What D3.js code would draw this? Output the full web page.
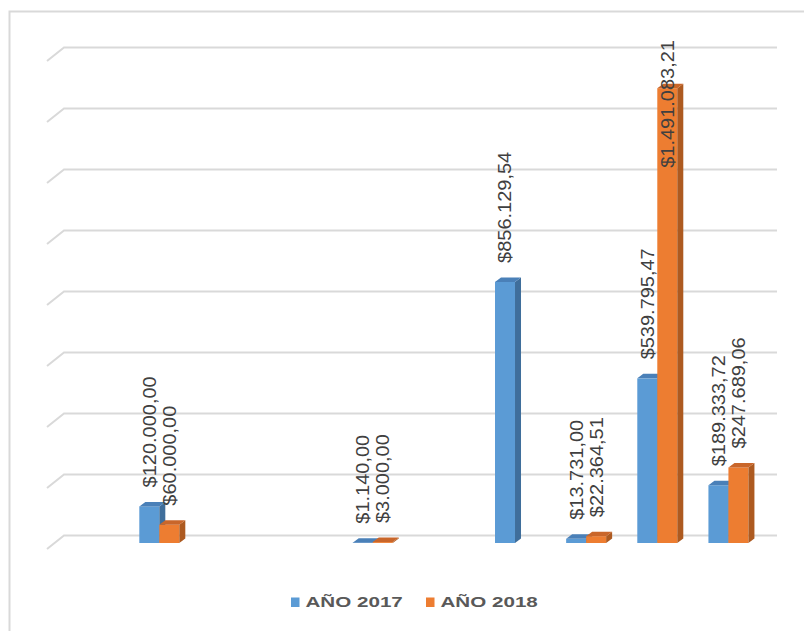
<!DOCTYPE html>
<html>
<head>
<meta charset="utf-8">
<script src="https://cdn.jsdelivr.net/npm/d3@7"></script>
<style>
  html, body { margin: 0; padding: 0; background: #ffffff; }
  svg { display: block; }
</style>
</head>
<body>
<svg id="chart" width="804" height="631"></svg>
<script>
// Ten budget lines; only some carry amounts in each year.
const categories = ["R1", "R2", "R3", "R4", "R5", "R6", "R7", "R8", "R9", "R10"];
const seriesNames = ["AÑO 2017", "AÑO 2018"];
const anio2017 = [null, 120000.00, null, null, 1140.00, null, 856129.54, 13731.00, 539795.47, 189333.72];
const anio2018 = [null, 60000.00, null, null, 3000.00, null, null, 22364.51, 1491083.21, 247689.06];
const yMax = 1600000;

const colors = {
  "AÑO 2017": { front: "#5b9bd5", side: "#3f6e9b", top: "#4a80b8" },
  "AÑO 2018": { front: "#ed7d31", side: "#ad5a20", top: "#c9662a" }
};

const svg = d3.select("#chart");

// Chart frame
svg.append("rect")
  .attr("x", 9.5).attr("y", 11.5)
  .attr("width", 820).attr("height", 640)
  .attr("fill", "none")
  .attr("stroke", "#d9d9d9")
  .attr("stroke-width", 2);

// Perspective offsets
const depth = { dx: 6, dy: 4.5 };          // bar depth
const wall = { dx: 17, dy: 13.5, back: 7.5 }; // floor depth, back wall shift

const x = d3.scaleBand().domain(categories).range([52.6, 764]).padding(0);
const xSub = d3.scaleBand().domain(seriesNames)
  .range([x.bandwidth() / 2 - 20, x.bandwidth() / 2 + 20]);
const y = d3.scaleLinear().domain([0, yMax]).range([543, 543 - 488]);

// Back-wall gridlines with their floor diagonal
const grid = svg.append("g").attr("fill", "none")
  .attr("stroke", "#d9d9d9").attr("stroke-width", 2);
y.ticks(8).forEach(t => {
  const yb = y(t) - wall.back;
  grid.append("path")
    .attr("d", `M${64 - wall.dx},${yb + wall.dy} L64,${yb} L777,${yb}`);
});

// Bars as extruded boxes
const rows = categories.map((c, i) => ({
  cat: c,
  vals: [
    { s: seriesNames[0], v: anio2017[i] },
    { s: seriesNames[1], v: anio2018[i] }
  ].filter(d => d.v != null)
}));

const bars = svg.append("g");
const w = xSub.bandwidth();
const y0 = y(0);
rows.forEach(r => {
  r.vals.forEach(d => {
    const bx = x(r.cat) + xSub(d.s);
    const by = y(d.v);
    const c = colors[d.s];
    const g = bars.append("g");
    g.append("rect")
      .attr("x", bx).attr("y", by)
      .attr("width", w).attr("height", Math.max(0, y0 - by))
      .attr("fill", c.front);
    g.append("polygon")
      .attr("points", [[bx + w, by], [bx + w + depth.dx, by - depth.dy],
                       [bx + w + depth.dx, y0 - depth.dy], [bx + w, y0]].join(" "))
      .attr("fill", c.side);
    g.append("polygon")
      .attr("points", [[bx, by], [bx + depth.dx, by - depth.dy],
                       [bx + w + depth.dx, by - depth.dy], [bx + w, by]].join(" "))
      .attr("fill", c.top);
  });
});

// Value labels, rotated, set above each bar (pulled down when they would leave the plot)
const fmt = d3.formatLocale({ decimal: ",", thousands: ".", grouping: [3], currency: ["$", ""] })
  .format("$,.2f");
const labelScale = 1.08;
const labelGap = 19;
const topLimit = 40;
const labels = svg.append("g");
rows.forEach(r => {
  r.vals.forEach(d => {
    const cx = x(r.cat) + xSub(d.s) + w / 2;
    const t = labels.append("text")
      .attr("font-family", "'Liberation Sans', Arial, sans-serif")
      .attr("font-size", 18.5)
      .attr("fill", "#404040")
      .attr("dy", "0.35em")
      .text(fmt(d.v));
    const len = t.node().getComputedTextLength() * labelScale;
    let start = y(d.v) - labelGap;
    if (start - len < topLimit) start = topLimit + len;
    t.attr("transform", `translate(${cx},${start}) rotate(-90) scale(${labelScale},1)`);
  });
});

// Legend
const legend = svg.append("g");
const legendPos = [291, 426];
seriesNames.forEach((s, i) => {
  const lx = legendPos[i];
  legend.append("rect")
    .attr("x", lx).attr("y", 597.5)
    .attr("width", 8.5).attr("height", 9.5)
    .attr("fill", colors[s].front);
  legend.append("text")
    .attr("transform", `translate(${lx + 14.5},607) scale(1.33,1)`)
    .attr("font-family", "'Liberation Sans', Arial, sans-serif")
    .attr("font-weight", "bold")
    .attr("font-size", 15.5)
    .attr("fill", "#595959")
    .text(s);
});
</script>
</body>
</html>
